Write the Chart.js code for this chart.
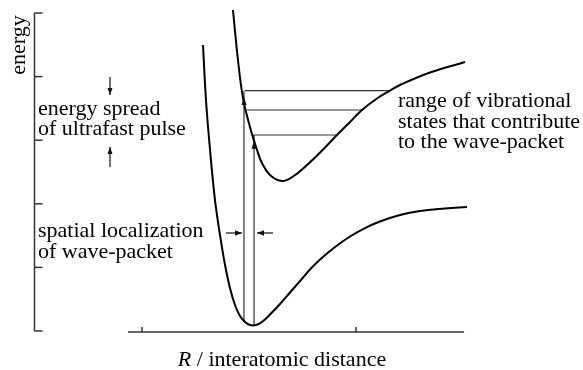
<!DOCTYPE html>
<html><head><meta charset="utf-8">
<script src="https://cdn.jsdelivr.net/npm/chart.js@4/dist/chart.umd.min.js"></script>
<style>html,body{margin:0;padding:0;background:#fff}</style>
</head><body>
<canvas id="c" width="583" height="370"></canvas>
<script>
// ---- data (arbitrary units: x = interatomic distance, y = energy) ----
const groundX = [1.570,1.598,1.636,1.682,1.729,1.776,1.822,1.869,1.916,1.963,2.009,2.065,2.121,2.196,2.290,2.383,2.477,2.570,2.664,2.804,2.944,3.084,3.224,3.411,3.598,3.832,4.037];
const groundY = [4.497,3.632,2.846,2.060,1.509,1.038,0.676,0.409,0.236,0.142,0.094,0.094,0.142,0.259,0.425,0.605,0.786,0.967,1.124,1.321,1.486,1.619,1.722,1.824,1.887,1.926,1.950];
const excitedX = [1.850,1.897,1.944,2.009,2.075,2.121,2.196,2.308,2.411,2.542,2.692,2.822,2.944,3.056,3.196,3.318,3.411,3.692,4.019];
const excitedY = [5.047,4.261,3.664,3.208,2.846,2.642,2.453,2.358,2.429,2.610,2.854,3.082,3.286,3.475,3.656,3.781,3.868,4.064,4.230];
const levelY = [3.778,3.475,3.082];
const levelStart = [1.963,1.981,2.037];
const levelEnd = [3.318,3.056,2.822];
const transX = [1.953,2.047];
const transBottom = [0.142,0.079];
const transTop = [3.778,3.082];
const transTip = [3.68,2.99];
const spatialY = 1.541;
const spatialArrows = [[1.785,1.935],[2.224,2.075]];
const spreadX = 0.701;
const spreadArrows = [[3.994,3.711],[2.579,2.893]];
const xTicks = [1,3];
const yTicks = [0,1,2,3,4,5];
const xAxisRange = [0.87,4.01];

const FONT = '22px "Liberation Serif", "Times New Roman", serif';
const labels = [
  {t:'energy spread', x:38, y:115},
  {t:'of ultrafast pulse', x:38, y:135},
  {t:'spatial localization', x:38, y:237},
  {t:'of wave-packet', x:38, y:258},
  {t:'range of vibrational', x:398, y:107},
  {t:'states that contribute', x:398, y:128},
  {t:'to the wave-packet', x:398, y:148}
];

const zip = (xs, ys) => xs.map((x,i)=>({x, y: ys[i]}));
const datasets = [
  {data: zip(groundX, groundY), borderColor:'#000', borderWidth:2, tension:0.4},
  {data: zip(excitedX, excitedY), borderColor:'#000', borderWidth:2, tension:0.4}
];
levelY.forEach((y,i)=>datasets.push({data:[{x:levelStart[i],y},{x:levelEnd[i],y}], borderColor:'#333', borderWidth:1.2, tension:0}));
transX.forEach((x,i)=>datasets.push({data:[{x,y:transBottom[i]},{x,y:transTop[i]}], borderColor:'#333', borderWidth:1.2, tension:0}));
datasets.forEach(d=>{d.showLine=true; d.pointRadius=0; d.clip=false; d.fill=false;});

function head(ctx, x1, y1, x2, y2, len, half) {
  const a = Math.atan2(y2-y1, x2-x1);
  ctx.beginPath();
  ctx.moveTo(x2, y2);
  ctx.lineTo(x2 - len*Math.cos(a) + half*Math.sin(a), y2 - len*Math.sin(a) - half*Math.cos(a));
  ctx.lineTo(x2 - len*Math.cos(a) - half*Math.sin(a), y2 - len*Math.sin(a) + half*Math.cos(a));
  ctx.closePath();
  ctx.fill();
}

const deco = {
  id:'deco',
  afterDatasetsDraw(chart){
    const ctx = chart.ctx, xs = chart.scales.x, ys = chart.scales.y;
    const X = v=>xs.getPixelForValue(v), Y = v=>ys.getPixelForValue(v);
    ctx.save();
    ctx.strokeStyle = '#333'; ctx.fillStyle = '#111'; ctx.lineWidth = 1.5;
    // y axis
    const ax = X(0) - 0.5;
    ctx.beginPath(); ctx.moveTo(ax, Y(0)); ctx.lineTo(ax, Y(5)); ctx.stroke();
    yTicks.forEach(v=>{ctx.beginPath(); ctx.moveTo(ax, Y(v)); ctx.lineTo(ax+8, Y(v)); ctx.stroke();});
    // x axis
    const ay = Y(0) + 1;
    ctx.beginPath(); ctx.moveTo(X(xAxisRange[0]), ay); ctx.lineTo(X(xAxisRange[1]), ay); ctx.stroke();
    xTicks.forEach(v=>{ctx.beginPath(); ctx.moveTo(X(v), ay); ctx.lineTo(X(v), ay-5); ctx.stroke();});
    // transition arrowheads
    ctx.fillStyle = '#111';
    transX.forEach((x,i)=>head(ctx, X(x), Y(transTip[i])+10, X(x), Y(transTip[i]), 8, 2.5));
    // spatial arrows
    ctx.lineWidth = 1.2; ctx.strokeStyle = '#111';
    spatialArrows.forEach(([a,b])=>{
      ctx.beginPath(); ctx.moveTo(X(a), Y(spatialY)); ctx.lineTo(X(b), Y(spatialY)); ctx.stroke();
      head(ctx, X(a), Y(spatialY), X(b), Y(spatialY), 7, 2.8);
    });
    // spread arrows
    spreadArrows.forEach(([a,b])=>{
      ctx.beginPath(); ctx.moveTo(X(spreadX), Y(a)); ctx.lineTo(X(spreadX), Y(b)); ctx.stroke();
      head(ctx, X(spreadX), Y(a), X(spreadX), Y(b), 7, 2.5);
    });
    // text
    ctx.fillStyle = '#000';
    ctx.font = FONT; ctx.textAlign = 'left'; ctx.textBaseline = 'alphabetic';
    labels.forEach(l=>ctx.fillText(l.t, l.x, l.y));
    // x title
    const t1 = 'R', t2 = ' / interatomic distance';
    ctx.font = 'italic ' + FONT; const w1 = ctx.measureText(t1).width;
    ctx.font = FONT; const w2 = ctx.measureText(t2).width;
    let sx = 282 - (w1+w2)/2;
    ctx.font = 'italic ' + FONT; ctx.fillText(t1, sx, 366);
    ctx.font = FONT; ctx.fillText(t2, sx + w1, 366);
    // y title
    ctx.translate(25, 45); ctx.rotate(-Math.PI/2);
    ctx.textAlign = 'center'; ctx.textBaseline = 'alphabetic';
    ctx.fillText('energy', 0, 0);
    ctx.restore();
  }
};

new Chart(document.getElementById('c'), {
  type:'scatter',
  data:{datasets},
  options:{
    responsive:false, animation:false, devicePixelRatio:1,
    layout:{padding:{left:35, right:13, top:13, bottom:39}},
    plugins:{legend:{display:false}, tooltip:{enabled:false}},
    scales:{
      x:{type:'linear', min:0, max:5, display:false},
      y:{type:'linear', min:0, max:5, display:false}
    }
  },
  plugins:[deco]
});
</script>
</body></html>
